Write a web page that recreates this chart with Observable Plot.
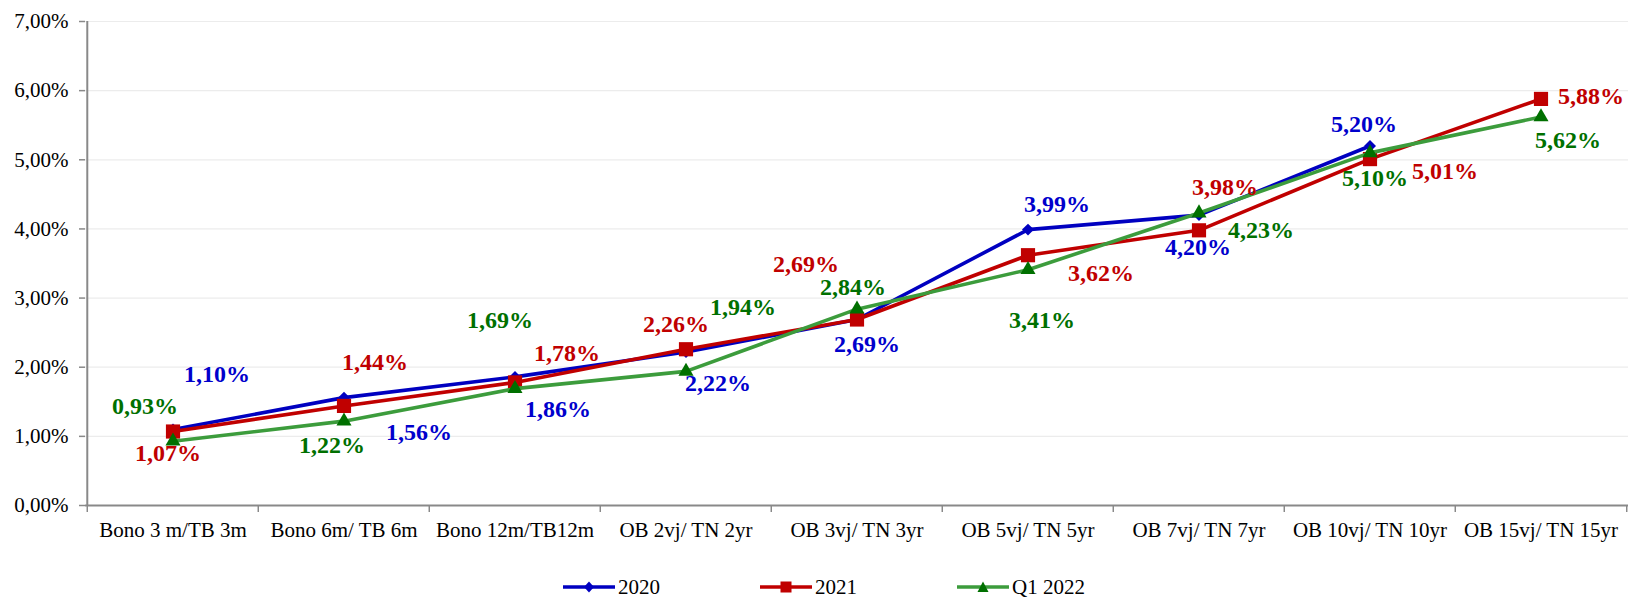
<!DOCTYPE html>
<html><head><meta charset="utf-8">
<script src="https://cdn.jsdelivr.net/npm/d3@7"></script>
<script src="https://cdn.jsdelivr.net/npm/@observablehq/plot@0.6"></script>
<style>
body{margin:0;background:#fff;position:relative;width:1628px;height:599px;overflow:hidden;font-family:"Liberation Serif","Times New Roman",serif;}
#legend{position:absolute;top:575px;left:563px;display:flex;}
.item{display:flex;align-items:center;width:197px;font-size:21px;color:#000;height:24px;}
.item svg{margin-right:3px;}
</style></head><body><div id="chart"></div><div id="legend"></div>
<script>
// ---- data ----
const categories = ["Bono 3 m/TB 3m","Bono 6m/ TB 6m","Bono 12m/TB12m","OB 2vj/ TN 2yr","OB 3vj/ TN 3yr","OB 5vj/ TN 5yr","OB 7vj/ TN 7yr","OB 10vj/ TN 10yr","OB 15vj/ TN 15yr"];
const seriesNames = ["2020","2021","Q1 2022"];
const values2020 = [1.10,1.56,1.86,2.22,2.69,3.99,4.20,5.20,null];
const values2021 = [1.07,1.44,1.78,2.26,2.69,3.62,3.98,5.01,5.88];
const valuesQ12022 = [0.93,1.22,1.69,1.94,2.84,3.41,4.23,5.10,5.62];
const yTicks = [0,1,2,3,4,5,6,7];

// ---- label placement (pixel offsets, styling only) ----
const offsets2020 = [[44,-55],[75,35],[43,32],[32,31],[10,25],[29,-25],[-1,32],[-6,-22]];
const offsets2021 = [[-5,22],[31,-44],[52,-29],[-10,-25],[-51,-55],[73,18],[26,-43],[75,12],[50,-3]];
const offsetsQ1 = [[-28,-35],[-12,24],[-15,-68],[57,-64],[-4,-22],[14,51],[62,17],[5,25],[27,23]];

const styles = [
  {line:"#0000C0", marker:"#0000C0", label:"#0000CC", symbol:"diamond2", r:5.4},
  {line:"#C00000", marker:"#C00000", label:"#C00000", symbol:"square", r:8},
  {line:"#3C9C3C", marker:"#007000", label:"#007000", symbol:"triangle", r:5.6}
];
const allValues = [values2020, values2021, valuesQ12022];
const allOffsets = [offsets2020, offsets2021, offsetsQ1];

const W=1628,H=560,mL=85,mR=0,mT=21,mB=55;
const bw=(W-mL-mR)/categories.length;
const axisColor="#898989";
const fmt = v => v.toFixed(2).replace(".",",")+"%";

const marks = [
  Plot.ruleY(yTicks.filter(t=>t>0), {stroke:"#ececec", strokeWidth:1.2}),
  Plot.axisY(yTicks, {tickFormat: fmt, tickSize:6, tickPadding:11, fontSize:21, stroke:axisColor, strokeWidth:1.5, fill:"#000"}),
  Plot.axisX({tickSize:0, tickPadding:17, fontSize:21, fill:"#000"}),
  Plot.ruleY([0], {stroke:axisColor, strokeWidth:2}),
  Plot.ruleX([categories[0]], {dx:-bw/2, stroke:axisColor, strokeWidth:2}),
  Plot.ruleX(categories, {x:d=>d, y1:0, y2:0, insetBottom:-7, dx:-bw/2, stroke:axisColor, strokeWidth:1.5}),
  Plot.ruleX([categories[categories.length-1]], {y1:0, y2:0, insetBottom:-7, dx:bw/2, stroke:axisColor, strokeWidth:1.5})
];

allValues.forEach((vals, s) => {
  const st = styles[s];
  const rows = vals.map((v,i)=>({cat:categories[i], v, i})).filter(d=>d.v!=null);
  marks.push(Plot.line(rows, {x:"cat", y:"v", stroke:st.line, strokeWidth:3.6}));
  marks.push(Plot.dot(rows, {x:"cat", y:"v", symbol:()=>st.symbol, fill:st.marker, r:st.r, stroke:"none"}));
});
allValues.forEach((vals, s) => {
  const st = styles[s];
  vals.forEach((v,i) => {
    if (v==null) return;
    const [dx,dy] = allOffsets[s][i];
    marks.push(Plot.text([{cat:categories[i], v}], {x:"cat", y:"v", text:d=>fmt(d.v), dx, dy, fill:st.label, fontSize:24, fontWeight:"bold"}));
  });
});

const chart = Plot.plot({
  width:W, height:H, marginLeft:mL, marginRight:mR, marginTop:mT, marginBottom:mB,
  style:{fontFamily:"'Liberation Serif','Times New Roman',serif", background:"#fff", overflow:"visible"},
  x:{type:"band", domain:categories, padding:0, label:null},
  y:{domain:[0,7], label:null},
  symbol:{type:"identity"},
  marks
});
document.getElementById("chart").appendChild(chart);

// ---- legend ----
const legend = document.getElementById("legend");
const legendSymbols = [
  '<path d="M26,1.5 L31,7 L26,12.5 L21,7 Z" fill="#0000C0"/>',
  '<rect x="20.5" y="1.5" width="11" height="11" fill="#C00000"/>',
  '<path d="M26,1.5 L31.5,12 L20.5,12 Z" fill="#007000"/>'
];
seriesNames.forEach((name, s) => {
  const it = document.createElement("div");
  it.className = "item";
  it.innerHTML = `<svg width="52" height="14"><line x1="0" y1="7" x2="52" y2="7" stroke="${styles[s].line}" stroke-width="3.6"/>${legendSymbols[s]}</svg><span>${name}</span>`;
  legend.appendChild(it);
});
</script>
</body></html>
